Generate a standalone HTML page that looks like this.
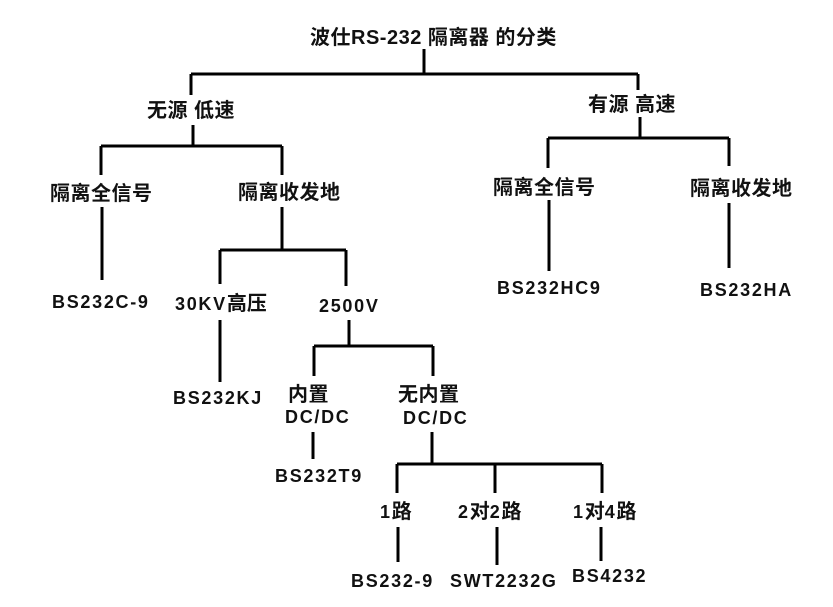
<!DOCTYPE html>
<html><head><meta charset="utf-8"><style>
html,body{margin:0;padding:0;background:#fff;}
svg{display:block}
text{font-family:"Liberation Sans","Noto Sans CJK SC",sans-serif;font-weight:bold;fill:#111;}
.c{font-size:20px;letter-spacing:0.5px}
.l{font-size:18px;letter-spacing:1.7px}
tspan.c{letter-spacing:0}
</style></head><body>
<svg width="833" height="607" viewBox="0 0 833 607" xmlns="http://www.w3.org/2000/svg">
<g stroke="#000" stroke-width="3" fill="none">
<path d="M424 49V74M191 74H638M191 74V95M638 74V90"/>
<path d="M193 125V146M101 146H282M101 146V175M282 146V175"/>
<path d="M102 207V280"/>
<path d="M282 207V250M220 250H346M220 250V284M346 250V286"/>
<path d="M220 320V382"/>
<path d="M349 320V346M314 346H433M314 346V376M433 346V376"/>
<path d="M313 432V459"/>
<path d="M432 432V464M397 464H602M397 464V493M495 464V493M602 464V493"/>
<path d="M398 527V562M497 527V565M601 527V561"/>
<path d="M640 117V138M548 138H729M548 138V168M729 138V166"/>
<path d="M549 200V271M729 203V268"/>
</g>
<text class="c" x="310" y="44">波仕RS-232 隔离器 的分类</text>
<text class="c" x="147" y="117">无源 低速</text>
<text class="c" x="588" y="111">有源 高速</text>
<text class="c" x="50" y="200">隔离全信号</text>
<text class="c" x="238" y="199">隔离收发地</text>
<text class="c" x="493" y="194">隔离全信号</text>
<text class="c" x="690" y="195">隔离收发地</text>
<text class="l" x="52" y="308">BS232C-9</text>
<text class="l" x="175" y="310">30KV<tspan class="c">高压</tspan></text>
<text class="l" x="319" y="312">2500V</text>
<text class="l" x="497" y="294">BS232HC9</text>
<text class="l" x="700" y="296">BS232HA</text>
<text class="l" x="173" y="404">BS232KJ</text>
<text class="c" x="288" y="401">内置</text>
<text class="l" x="285" y="423">DC/DC</text>
<text class="c" x="398" y="401">无内置</text>
<text class="l" x="403" y="424">DC/DC</text>
<text class="l" x="275" y="482">BS232T9</text>
<text class="l" x="380" y="518">1<tspan class="c">路</tspan></text>
<text class="l" x="458" y="518">2<tspan class="c">对</tspan>2<tspan class="c">路</tspan></text>
<text class="l" x="573" y="518">1<tspan class="c">对</tspan>4<tspan class="c">路</tspan></text>
<text class="l" x="351" y="587">BS232-9</text>
<text class="l" x="450" y="587">SWT2232G</text>
<text class="l" x="572" y="582">BS4232</text>
</svg>
</body></html>
